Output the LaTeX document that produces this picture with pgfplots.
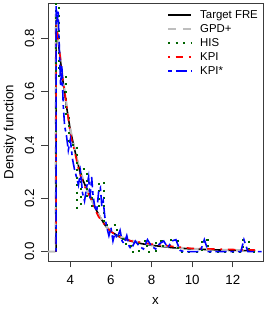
\documentclass[border=0pt]{standalone}
\usepackage{pgfplots}
\pgfplotsset{compat=1.18}
\usepackage{fontspec}
\setmainfont{Liberation Sans}
\definecolor{dkgreen}{RGB}{0,100,0}
\definecolor{gpdgray}{RGB}{190,190,190}
\definecolor{boxgray}{RGB}{60,60,60}
\begin{document}
\begin{tikzpicture}
\useasboundingbox (-48pt,-49pt) rectangle (218pt,261pt);
\begin{axis}[
  scale only axis, width=215pt, height=258pt,
  xmin=2.90, xmax=13.49, ymin=-0.035, ymax=0.932,
  axis line style={boxgray, line width=0.6pt},
  xtick={4,6,8,10,12}, ytick={0,0.2,0.4,0.6,0.8},
  xtick pos=bottom, ytick pos=left,
  tick align=outside, major tick length=6.5pt,
  every tick/.style={boxgray, line width=0.6pt},
  yticklabel style={/pgf/number format/.cd, fixed, fixed zerofill, precision=1, /tikz/.cd},
  /pgf/number format/assume math mode=true,
  tick label style={font=\fontsize{13.3}{15}\selectfont},
  yticklabel style={xshift=-7pt, rotate=90, anchor=south, inner sep=0pt},
  xticklabel style={yshift=-8pt, anchor=north, inner sep=0pt},
  every axis y label/.style={at={(axis description cs:-0.1614,0.5)}, rotate=90, anchor=base},
  every axis x label/.style={at={(axis description cs:0.5,-0.1705)}, anchor=base},
  label style={font=\fontsize{13.3}{15}\selectfont},
  xlabel={x}, ylabel={Density function},
  legend cell align=left,
  legend style={at={(axis description cs:0.5535,0.9806)}, anchor=north west, draw=none, fill=none,
    inner sep=0pt, row sep=0pt, font=\fontsize{11.4}{13}\selectfont,
    nodes={inner sep=1pt, text height=9pt, text depth=3pt},
    /tikz/every odd column/.append style={column sep=7pt}},
  legend image code/.code={\draw[#1] (0pt,0pt) -- (23pt,0pt);},
]
% Target FRE
\addplot[black, line width=1.6pt] coordinates {
(3.30,0) (3.30,0.87) (3.40,0.79) (3.60,0.66) (3.80,0.55) (4.00,0.455) (4.25,0.37) (4.50,0.29)
(4.75,0.245) (5.00,0.205) (5.25,0.16) (5.50,0.125) (5.75,0.095) (6.00,0.075) (6.50,0.052)
(7.00,0.039) (7.50,0.030) (8.00,0.024) (9.00,0.015) (10.00,0.010) (11.00,0.007) (12.00,0.005) (13.10,0.003)};
\addlegendentry{Target FRE}
% GPD+
\addplot[gpdgray, line width=2pt, dash pattern=on 7.5pt off 7.5pt] coordinates {
(2.90,0) (3.28,0) (3.28,0.89) (3.40,0.80) (3.60,0.67) (3.80,0.56) (4.00,0.46) (4.25,0.37) (4.50,0.30)
(4.75,0.245) (5.00,0.20) (5.25,0.16) (5.50,0.125) (5.75,0.097) (6.00,0.078) (6.50,0.055)
(7.00,0.042) (7.50,0.033) (8.00,0.026) (9.00,0.017) (10.00,0.011) (11.00,0.008) (12.00,0.006) (13.10,0.004)};
\addlegendentry{GPD+}
% HIS
\addplot[dkgreen, line width=2pt, dash pattern=on 2pt off 5.5pt, const plot] coordinates {
(3.30,0) (3.30,0.93) (3.45,0.66) (3.77,0.50) (3.95,0.40) (4.35,0.165) (4.55,0.31) (4.80,0.20)
(5.05,0.17) (5.40,0.26) (5.65,0.10) (6.30,0.06) (6.60,0.03) (7.00,0.0) (7.40,0.04) (7.80,0.0)
(8.20,0.04) (8.50,0.02) (8.90,0.045) (9.30,0.0) (10.50,0.045) (10.80,0.0) (12.50,0.045) (12.80,0.0) (13.10,0.0)};
\addlegendentry{HIS}
% KPI
\addplot[red, line width=1.6pt, dash pattern=on 1.9pt off 5.6pt on 7.5pt off 5.6pt] coordinates {
(3.30,0) (3.30,0.85) (3.40,0.80) (3.60,0.66) (3.80,0.56) (4.00,0.44) (4.20,0.38) (4.40,0.31)
(4.60,0.26) (4.80,0.23) (5.00,0.20) (5.20,0.16) (5.40,0.13) (5.60,0.11) (5.80,0.09) (6.00,0.075)
(6.30,0.06) (6.60,0.05) (7.00,0.04) (7.50,0.035) (8.00,0.028) (8.50,0.025) (9.00,0.02) (9.50,0.016)
(10.00,0.012) (10.50,0.012) (11.00,0.01) (12.00,0.008) (13.10,0.006)};
\addlegendentry{KPI}
% KPI*
\addplot[blue, line width=1.6pt, dash pattern=on 3.8pt off 3.8pt on 11.3pt off 3.8pt] coordinates {
(3.30,0) (3.30,0.92) (3.36,0.86) (3.40,0.90) (3.46,0.76) (3.52,0.62) (3.58,0.70) (3.65,0.55)
(3.72,0.47) (3.80,0.44) (3.90,0.38) (4.00,0.42) (4.10,0.35) (4.20,0.31) (4.30,0.28) (4.40,0.25)
(4.50,0.30) (4.60,0.22) (4.70,0.19) (4.80,0.24) (4.90,0.28) (4.97,0.20) (5.05,0.28) (5.12,0.21)
(5.20,0.17) (5.30,0.15) (5.40,0.23) (5.48,0.24) (5.55,0.17) (5.62,0.19) (5.70,0.13) (5.80,0.09)
(5.90,0.06) (6.00,0.09) (6.10,0.04) (6.20,0.07) (6.30,0.05) (6.45,0.08) (6.55,0.04) (6.65,0.03)
(6.78,0.06) (6.90,0.02) (7.00,0.01) (7.20,0.04) (7.40,0.02) (7.60,0.01) (7.80,0.045) (8.00,0.02)
(8.20,0.01) (8.40,0.03) (8.60,0.04) (8.80,0.015) (9.00,0.04) (9.20,0.045) (9.40,0.005) (9.60,0.0)
(10.40,0.0) (10.60,0.045) (10.80,0.0) (12.40,0.0) (12.55,0.045) (12.75,0.0) (13.50,0.0)};
\addlegendentry{KPI*}
\end{axis}
\end{tikzpicture}
\end{document}
